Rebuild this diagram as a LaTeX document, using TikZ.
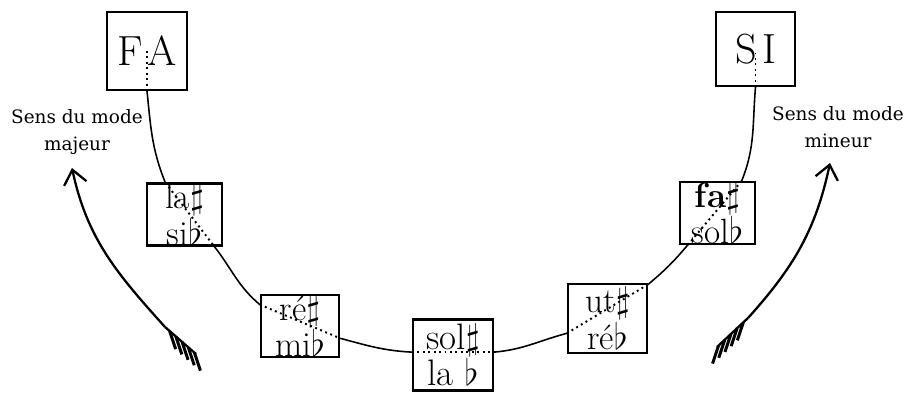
\documentclass[tikz,border=0pt]{standalone}
\usepackage{amsmath,amssymb}
\usepackage{fontspec}
\newfontfamily\legendfont{DejaVu Serif}
\usepackage{tikz}
\usetikzlibrary{arrows.meta,calc}

\begin{document}
\begin{tikzpicture}[x=0.02cm,y=-0.02cm,>={Straight Barb[length=8pt,width=13pt]},
     notebox/.style={draw,line width=1.3pt,inner sep=0pt,align=center,
          font=\fontsize{20}{14.5}\selectfont},
     link/.style={line width=0.9pt},
     hidden/.style={line width=1.1pt,dotted},
     sens/.style={line width=1.3pt},
     legend/.style={align=center,font=\legendfont\fontsize{10.5}{15}\selectfont}]
     \useasboundingbox (0,0) rectangle (908,395);

     % boxes of the chain
     \node[notebox,minimum width=1.6cm,minimum height=1.56cm,
          font=\fontsize{24}{28}\selectfont] (fa) at (147,51) {F\hspace{3pt}A};
     \node[notebox,minimum width=1.58cm,minimum height=1.48cm,
          font=\fontsize{24}{28}\selectfont] (si) at (755.5,49) {S\hspace{3pt}I};
     \node[notebox,minimum width=1.5cm,minimum height=1.1cm] (lasi) at (184.5,214.5)
          {la$\sharp$\\si$\flat$};
     \node[notebox,minimum width=1.56cm,minimum height=1.16cm] (remi) at (300,326)
          {ré$\sharp$\\mi$\flat$};
     \node[notebox,minimum width=1.6cm,minimum height=1.42cm,
          font=\fontsize{21}{18}\selectfont] (solla) at (453,355)
          {sol$\sharp$\\la $\flat$};
     \node[notebox,minimum width=1.58cm,minimum height=1.38cm] (utre) at (607.5,318.5)
          {ut$\sharp$\\ré$\flat$};
     \node[notebox,minimum width=1.5cm,minimum height=1.08cm] (fasol) at (717.5,213)
          {\textbf{fa}$\sharp$\\sol$\flat$};

     % line from box to box
     \draw[link] (fa.south) to[out=-84,in=112] (lasi.121);
     \draw[link] (lasi.313) to[out=-52,in=140] (remi.152);
     \draw[link] (remi.343) to[out=-15,in=177] (solla.176);
     \draw[link] (solla.4) to[out=5,in=195] (utre.200);
     \draw[link] (utre.40) to[out=40,in=230] (fasol.227);
     \draw[link] (fasol.53) to[out=68,in=-95] (si.south);

     % dotted part inside the boxes
     \draw[hidden] (fa.center) -- (fa.south);
     \draw[hidden] (lasi.121) -- (lasi.313);
     \draw[hidden] (remi.152) -- (remi.343);
     \draw[hidden] (solla.176) -- (solla.4);
     \draw[hidden] (utre.200) -- (utre.40);
     \draw[hidden] (fasol.227) -- (fasol.53);
     \draw[hidden] (si.south) -- (si.center);

     % labels
     \node[legend] (majeur) at (77,132) {Sens du mode\\majeur};
     \node[legend] (mineur) at (838,127) {Sens du mode\\mineur};

     % arrow of the major mode
     \coordinate (majtip) at (72,168);
     \coordinate (majtail) at (165,327);
     \coordinate (majend) at (196,354);
     \draw[sens,->] (majtail) to[out=132,in=-78] (majtip);
     \draw[sens] (majtail) -- (majend);
     \foreach \t in {0.15,0.35,0.55,0.75,0.95}
          \draw[sens,line width=1.7pt] ($(majtail)!\t!(majend)$) -- ++(6,18);

     % arrow of the minor mode
     \coordinate (mintip) at (830,163);
     \coordinate (mintail) at (748,318);
     \coordinate (minend) at (717,347);
     \draw[sens,->] (mintail) to[out=48,in=-102] (mintip);
     \draw[sens] (mintail) -- (minend);
     \foreach \t in {0.15,0.35,0.55,0.75,0.95}
          \draw[sens,line width=1.7pt] ($(mintail)!\t!(minend)$) -- ++(-6,18);
\end{tikzpicture}
\end{document}
